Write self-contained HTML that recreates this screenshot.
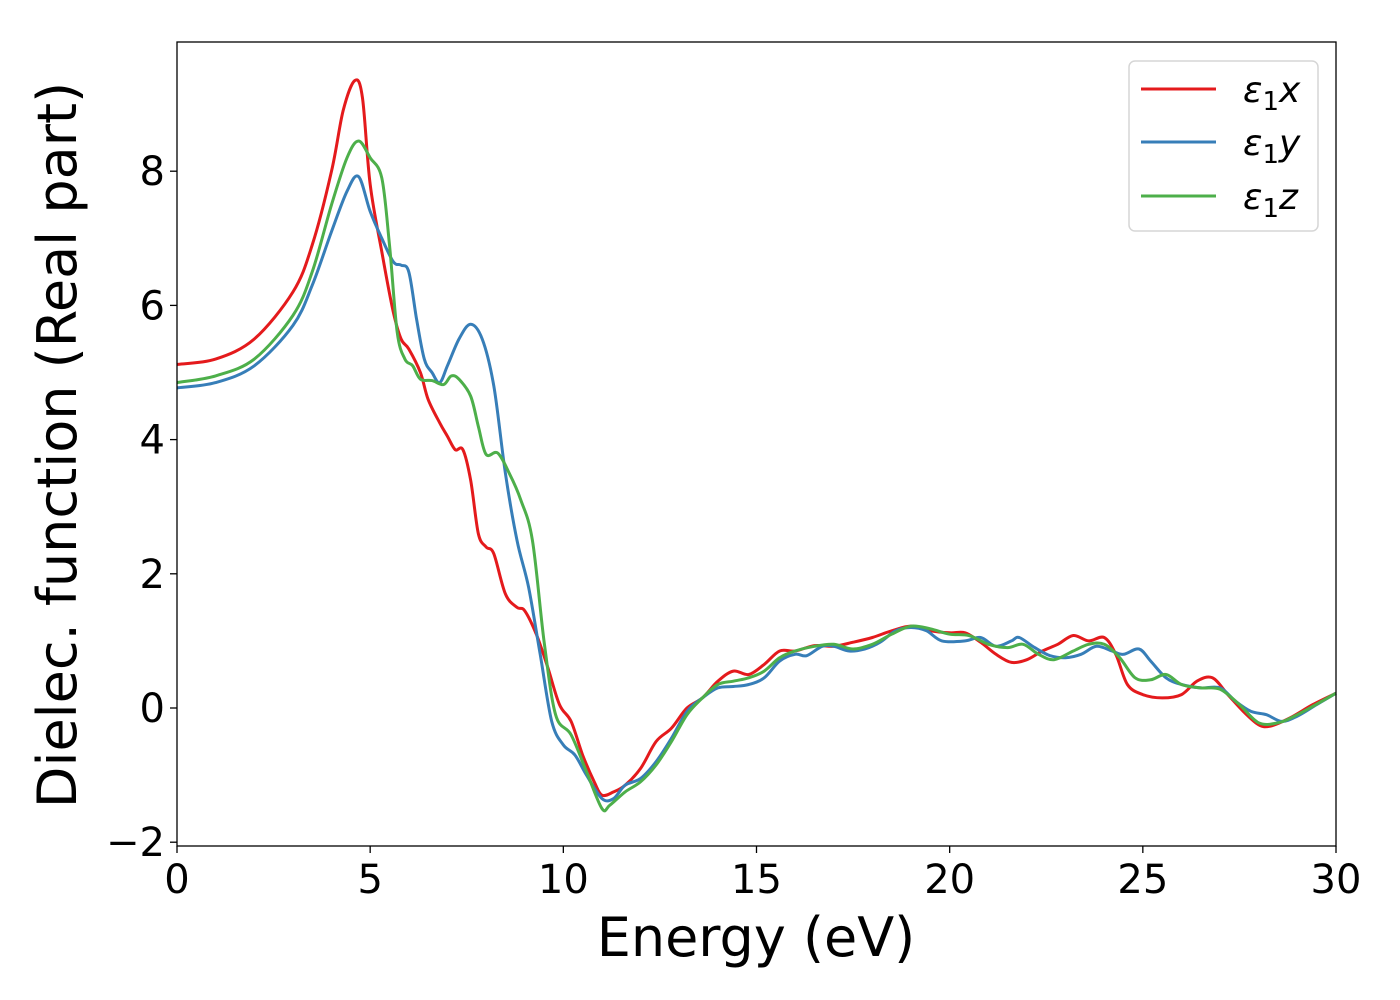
<!DOCTYPE html>
<html><head><meta charset="utf-8"><style>
html,body{margin:0;padding:0;background:#fff;}
svg{display:block;font-family:"DejaVu Sans","Liberation Sans",sans-serif;}
</style></head><body>
<svg id="chart" width="1400" height="1000" viewBox="0 0 1400 1000" xmlns="http://www.w3.org/2000/svg">
<rect x="0" y="0" width="1400" height="1000" fill="#fff"/>
<g id="series"></g>
<g id="axes"></g>
<rect x="177" y="42" width="1159" height="804" fill="none" stroke="#000" stroke-width="1.3"/>
<text x="756" y="956" font-size="54" text-anchor="middle">Energy (eV)</text>
<text transform="translate(76,445) rotate(-90)" font-size="54" text-anchor="middle">Dielec. function (Real part)</text>
<g>
<rect x="1129" y="61" width="189" height="170" rx="6" fill="#fff" stroke="#d6d6d6" stroke-width="1.5"/>
<g><line x1="1141" y1="89" x2="1216" y2="89" stroke="#e41a1c" stroke-width="3"/><text x="1243" y="102" font-size="36" font-style="italic">ε<tspan font-style="normal" font-size="26" dy="8">1</tspan><tspan dy="-8">x</tspan></text></g>
<g><line x1="1141" y1="142" x2="1216" y2="142" stroke="#377eb8" stroke-width="3"/><text x="1243" y="155" font-size="36" font-style="italic">ε<tspan font-style="normal" font-size="26" dy="8">1</tspan><tspan dy="-8">y</tspan></text></g>
<g><line x1="1141" y1="196" x2="1216" y2="196" stroke="#4daf4a" stroke-width="3"/><text x="1243" y="209" font-size="36" font-style="italic">ε<tspan font-style="normal" font-size="26" dy="8">1</tspan><tspan dy="-8">z</tspan></text></g>
</g>
</svg>
<script>
const xTicks=[0,5,10,15,20,25,30];
const yTicks=[-2,0,2,4,6,8];
const yTickLabels=["−2","0","2","4","6","8"];
const redE=[0,1,2,3,3.5,4,4.3,4.6,4.8,5.0,5.3,5.6,5.8,6.0,6.3,6.5,6.8,7.0,7.2,7.4,7.6,7.8,8.0,8.2,8.5,8.8,9.0,9.3,9.6,9.9,10.2,10.5,10.8,11.0,11.3,11.6,12.0,12.4,12.8,13.2,13.6,14.0,14.4,14.8,15.2,15.6,16,16.5,17,17.5,18,18.5,19,19.5,20,20.4,20.8,21.2,21.6,22,22.4,22.8,23.2,23.6,24,24.3,24.6,25,25.5,26,26.4,26.8,27.2,27.6,28,28.3,28.8,29.4,30];
const redV=[5.12,5.2,5.5,6.2,6.9,8.0,8.9,9.35,9.1,7.8,6.8,5.9,5.5,5.35,5.0,4.6,4.25,4.05,3.85,3.85,3.4,2.6,2.4,2.3,1.7,1.5,1.45,1.1,0.6,0.05,-0.2,-0.7,-1.1,-1.3,-1.25,-1.15,-0.9,-0.5,-0.3,0.0,0.15,0.4,0.55,0.5,0.65,0.85,0.85,0.93,0.92,0.98,1.05,1.15,1.22,1.15,1.12,1.12,0.98,0.8,0.68,0.72,0.85,0.95,1.08,1.0,1.05,0.8,0.35,0.2,0.15,0.2,0.4,0.45,0.2,-0.05,-0.25,-0.27,-0.15,0.05,0.22];
const blueE=[0,1,2,3,3.5,4,4.4,4.7,5.0,5.3,5.6,5.8,6.0,6.2,6.4,6.6,6.8,7.0,7.3,7.6,7.9,8.2,8.5,8.8,9.1,9.4,9.7,10,10.3,10.6,11,11.3,11.6,12,12.4,12.8,13.2,13.6,14.0,14.4,14.8,15.2,15.6,16,16.3,16.7,17,17.4,17.8,18.2,18.6,19,19.4,19.8,20.4,20.8,21.2,21.6,21.8,22.2,22.6,23,23.4,23.8,24.2,24.5,24.9,25.2,25.6,26,26.5,27,27.4,27.8,28.2,28.6,29,29.5,30];
const blueV=[4.77,4.85,5.1,5.7,6.3,7.1,7.7,7.92,7.4,7.0,6.65,6.6,6.5,5.8,5.2,5.0,4.85,5.1,5.5,5.72,5.5,4.8,3.5,2.5,1.8,0.8,-0.2,-0.55,-0.7,-1.0,-1.35,-1.35,-1.15,-1.05,-0.8,-0.45,-0.05,0.15,0.3,0.32,0.35,0.45,0.7,0.8,0.78,0.92,0.92,0.85,0.88,0.98,1.15,1.2,1.15,1.0,1.0,1.05,0.92,1.0,1.05,0.9,0.78,0.75,0.8,0.92,0.85,0.8,0.88,0.7,0.45,0.35,0.3,0.3,0.1,-0.05,-0.1,-0.2,-0.12,0.05,0.22];
const greenE=[0,1,2,3,3.5,4,4.4,4.7,5.0,5.3,5.5,5.7,5.9,6.1,6.3,6.6,6.9,7.1,7.3,7.6,7.8,8.0,8.3,8.6,8.9,9.2,9.5,9.8,10.2,10.6,11.0,11.2,11.6,12,12.4,12.8,13.2,13.6,14,14.4,14.8,15.2,15.6,16,16.5,17,17.5,18,18.5,19,19.5,20,20.5,21,21.5,21.9,22.3,22.7,23.2,23.6,24,24.4,24.8,25.2,25.6,26,26.5,27,27.5,28,28.5,29,30];
const greenV=[4.85,4.95,5.2,5.85,6.5,7.5,8.2,8.45,8.2,7.9,6.9,5.6,5.2,5.1,4.9,4.88,4.82,4.95,4.9,4.65,4.2,3.78,3.8,3.5,3.1,2.5,1.0,-0.1,-0.4,-0.95,-1.5,-1.45,-1.25,-1.1,-0.85,-0.5,-0.1,0.15,0.35,0.4,0.45,0.55,0.75,0.85,0.92,0.95,0.88,0.95,1.1,1.22,1.18,1.1,1.08,0.95,0.9,0.95,0.8,0.72,0.85,0.95,0.95,0.75,0.45,0.42,0.5,0.35,0.3,0.28,0.05,-0.22,-0.22,-0.1,0.22];

const X0=177,X1=1336,Y0val=708,YPU=67.1;
function sx(v){return X0+(v-0)/(30-0)*(X1-X0);}
function sy(v){return Y0val-v*YPU;}
const NS="http://www.w3.org/2000/svg";
const axes=document.getElementById('axes');
xTicks.forEach(t=>{
  const l=document.createElementNS(NS,'line');
  
  
  l.setAttribute('x1',sx(t));l.setAttribute('x2',sx(t));l.setAttribute('y1',846);l.setAttribute('y2',853);
  l.setAttribute('stroke','#000');l.setAttribute('stroke-width','1.3');axes.appendChild(l);
  const tx=document.createElementNS(NS,'text');
  
  
  tx.setAttribute('x',sx(t));tx.setAttribute('y',893);tx.setAttribute('font-size','40');tx.setAttribute('text-anchor','middle');
  tx.textContent=String(t);axes.appendChild(tx);
});
yTicks.forEach((t,i)=>{
  const l=document.createElementNS(NS,'line');
  
  
  l.setAttribute('x1',170);l.setAttribute('x2',177);l.setAttribute('y1',sy(t));l.setAttribute('y2',sy(t));
  l.setAttribute('stroke','#000');l.setAttribute('stroke-width','1.3');axes.appendChild(l);
  const tx=document.createElementNS(NS,'text');
  
  
  tx.setAttribute('x',165);tx.setAttribute('y',sy(t)+14);tx.setAttribute('font-size','40');tx.setAttribute('text-anchor','end');
  tx.textContent=yTickLabels[i];axes.appendChild(tx);
});
function smoothPath(E,V){
  const p=E.map((e,i)=>[sx(e),sy(V[i])]);
  let d='M'+p[0][0].toFixed(1)+','+p[0][1].toFixed(1);
  for(let i=0;i<p.length-1;i++){
    const p0=p[i-1]||p[i],p1=p[i],p2=p[i+1],p3=p[i+2]||p2;
    const c1=[p1[0]+(p2[0]-p0[0])/6,p1[1]+(p2[1]-p0[1])/6];
    const c2=[p2[0]-(p3[0]-p1[0])/6,p2[1]-(p3[1]-p1[1])/6];
    d+=' C'+c1[0].toFixed(1)+','+c1[1].toFixed(1)+' '+c2[0].toFixed(1)+','+c2[1].toFixed(1)+' '+p2[0].toFixed(1)+','+p2[1].toFixed(1);
  }
  return d;
}
const g=document.getElementById('series');
[[redE,redV,'#e41a1c','series-eps1-x'],[blueE,blueV,'#377eb8','series-eps1-y'],[greenE,greenV,'#4daf4a','series-eps1-z']].forEach(s=>{
  const path=document.createElementNS(NS,'path');
  
  
  path.setAttribute('d',smoothPath(s[0],s[1]));
  path.setAttribute('fill','none');path.setAttribute('stroke',s[2]);path.setAttribute('stroke-width','3');
  path.setAttribute('stroke-linejoin','round');
  g.appendChild(path);
});
</script>
</body></html>
